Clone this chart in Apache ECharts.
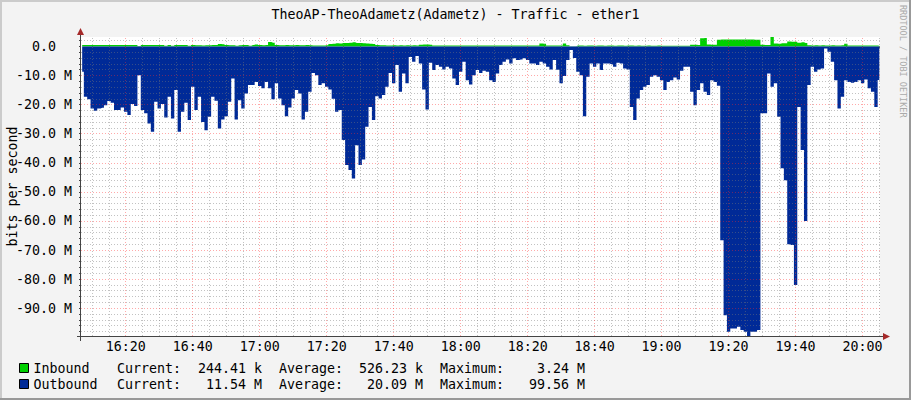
<!DOCTYPE html>
<html>
<head>
<meta charset="utf-8">
<title>TheoAP-TheoAdametz(Adametz) - Traffic - ether1</title>
<script src="https://cdn.jsdelivr.net/npm/echarts@6/dist/echarts.min.js"></script>
<style>
  html, body { margin: 0; padding: 0; background: #f3f3f3; }
  #chart { width: 911px; height: 400px; }
</style>
</head>
<body>
<div id="chart"></div>
<script>
// one sample per minute, starting at this time (values in Mbit/s)
const startTime = '16:07'

const inbound = [
  0.45, 0.5, 0.5, 0.45, 0.5, 0.5, 0.45, 0.5, 0.5, 0.45,
  0.5, 0.5, 0.45, 0.5, 0.5, 0.45, 0.5, 0.15, 0.5, 0.5,
  0.45, 0.5, 0.5, 0.45, 0.5, 0.2, 0.45, 0.2, 0.45, 0.5,
  0.5, 0.45, 0.2, 0.45, 0.4, 0.4, 0.35, 0.4, 0.4, 0.45,
  0.45, 0.8, 0.75, 0.45, 0.4, 0.4, 0.25, 0.4, 0.45, 0.45,
  0.25, 0.45, 0.7, 0.45, 0.4, 0.45, 1.5, 1.3, 0.45, 0.4,
  0.4, 0.45, 0.4, 0.4, 0.45, 0.4, 0.4, 0.45, 0.4, 0.35,
  0.35, 0.3, 0.35, 0.4, 0.8, 0.9, 1.1, 1.0, 1.2, 1.2,
  1.3, 1.4, 1.2, 1.2, 1.1, 1.0, 0.9, 0.8, 0.45, 0.4,
  0.4, 0.35, 0.35, 0.4, 0.35, 0.4, 0.35, 0.4, 0.35, 0.4,
  0.35, 0.6, 0.7, 0.7, 0.6, 0.35, 0.35, 0.3, 0.35, 0.35,
  0.3, 0.35, 0.35, 0.3, 0.35, 0.35, 0.3, 0.35, 0.35, 0.3,
  0.35, 0.35, 0.3, 0.35, 0.35, 0.3, 0.35, 0.35, 0.3, 0.35,
  0.35, 0.3, 0.35, 0.35, 0.3, 0.35, 0.35, 1.0, 0.9, 0.35,
  0.3, 0.35, 0.35, 0.3, 1.0, 0.4, 0.05, 0.1, 0.3, 0.3,
  0.25, 0.3, 0.3, 0.25, 0.3, 0.3, 0.25, 0.3, 0.3, 0.25,
  0.3, 0.3, 0.25, 0.3, 0.3, 0.25, 0.3, 0.25, 0.25, 0.3,
  0.25, 0.25, 0.3, 0.25, 0.2, 0.2, 0.25, 0.2, 0.2, 0.25,
  0.2, 0.25, 0.6, 0.6, 0.5, 2.8, 2.9, 0.7, 0.6, 0.6,
  2.3, 2.4, 2.4, 2.4, 2.4, 2.4, 2.4, 2.4, 2.4, 2.4,
  2.4, 2.3, 2.3, 0.6, 0.5, 0.5, 3.24, 1.0, 0.9, 1.1,
  1.1, 1.7, 1.6, 1.6, 1.3, 1.4, 1.2, 0.4, 0.35, 0.4,
  0.35, 0.4, 0.35, 0.35, 0.4, 0.35, 0.35, 0.4, 0.9, 0.3,
  0.3, 0.3, 0.35, 0.3, 0.3, 0.3, 0.35, 0.3, 0.244
]

const outbound = [
  -8.7, -17.3, -18.2, -21.3, -22.1, -21.3, -21.1, -20.2, -18.8, -19.4,
  -21.9, -21.9, -21.0, -22.5, -23.6, -19.8, -20.5, -9.9, -21.9, -23.0,
  -26.5, -29.3, -19.0, -21.3, -19.8, -24.4, -17.3, -24.8, -15.0, -29.3,
  -22.5, -19.4, -25.3, -13.9, -21.9, -17.3, -26.0, -28.8, -24.2, -17.3,
  -18.7, -28.2, -25.1, -24.0, -19.0, -11.0, -25.1, -18.5, -21.3, -16.2,
  -13.3, -13.3, -12.2, -13.6, -14.4, -12.2, -14.4, -18.2, -12.7, -17.9,
  -20.2, -24.0, -21.0, -17.9, -15.0, -16.2, -25.1, -22.5, -15.6, -9.1,
  -9.9, -13.3, -12.7, -13.9, -14.8, -18.0, -22.5, -21.9, -32.2, -40.8,
  -42.5, -45.4, -34.0, -40.8, -38.9, -27.6, -20.8, -25.3, -17.1, -17.9,
  -16.7, -13.9, -9.1, -12.7, -6.4, -15.6, -9.3, -12.7, -3.6, -5.3,
  -3.3, -5.9, -14.8, -21.7, -5.6, -8.1, -6.4, -7.0, -7.9, -7.0,
  -7.6, -11.0, -13.3, -8.7, -5.3, -11.6, -13.1, -9.9, -8.1, -9.1,
  -8.4, -8.7, -11.6, -12.2, -9.3, -6.4, -5.3, -4.5, -5.9, -4.1,
  -4.7, -4.5, -4.1, -4.7, -5.9, -5.9, -6.4, -5.3, -5.9, -7.0,
  -7.9, -4.7, -8.0, -12.7, -10.2, -4.7, -1.2, -4.0, -8.7, -9.9,
  -24.0, -10.4, -5.9, -7.0, -5.9, -8.1, -5.9, -5.9, -6.1, -7.0,
  -5.6, -5.9, -7.6, -7.9, -20.8, -25.3, -17.9, -15.0, -13.9, -13.3,
  -10.4, -9.9, -10.4, -11.6, -15.0, -12.2, -11.6, -10.7, -11.4, -8.4,
  -7.0, -7.0, -15.6, -20.2, -15.0, -12.7, -15.6, -16.7, -11.6, -12.2,
  -13.5, -66.6, -92.4, -98.1, -97.0, -97.0, -96.4, -97.5, -98.1, -99.56,
  -98.1, -98.1, -97.5, -23.0, -23.0, -9.3, -13.9, -12.7, -24.2, -41.9,
  -46.0, -68.0, -68.3, -82.0, -20.8, -35.6, -60.0, -13.3, -7.0, -8.7,
  -7.9, -7.6, -0.7, -1.8, -5.3, -11.6, -21.3, -17.3, -11.6, -12.2,
  -12.5, -12.2, -11.6, -12.7, -11.4, -14.4, -15.6, -20.8, -11.54
]

const timeLabels = ['16:20', '16:40', '17:00', '17:20', '17:40', '18:00',
  '18:20', '18:40', '19:00', '19:20', '19:40', '20:00']
const yLabels = [0, -10, -20, -30, -40, -50, -60, -70, -80, -90]

const statNames = ['Current:', 'Average:', 'Maximum:']
const inboundStats = ['244.41 k', '526.23 k', '3.24 M']
const outboundStats = ['11.54 M', '20.09 M', '99.56 M']

const FONT = 'DejaVu Sans Mono'
const FS = 13.3
const GREEN = '#00CF00'
const BLUE = '#002A97'

const toMin = s => { const [h, m] = s.split(':').map(Number); return h * 60 + m }
const fmtMin = v => {
  const h = Math.floor(v / 60), m = Math.round(v % 60)
  return String(h).padStart(2, '0') + ':' + String(m).padStart(2, '0')
}

const t0 = toMin(startTime)
const inData = inbound.map((v, i) => [t0 + i, v])
const outData = outbound.map((v, i) => [t0 + i, v])

// visible time window of the graph
const xMin = toMin('16:06') + 0.65
const xMax = toMin('20:05') + 0.2
const yMin = -99.56
const yMax = 3.24

// plot area in pixels
const G = { left: 81, top: 37, width: 799, height: 299 }
const gRight = G.left + G.width
const gBottom = G.top + G.height

const majorX = timeLabels.map(toMin)
const tickX = []
for (let m = 970; m < xMax; m += 5) tickX.push(m)
const minorX = tickX.filter(m => !majorX.includes(m))
const tickY = []
for (let v = 2; v > yMin; v -= 2) tickY.push(v)
const minorY = tickY.filter(v => v % 10 !== 0)

const minorStyle = { color: 'rgba(120,120,120,0.45)', width: 1, type: [1, 2] }
const majorStyle = { color: 'rgba(255,40,40,0.4)', width: 1, type: [1, 2] }
const gridLines = [
  ...minorX.map(x => ({ xAxis: x, lineStyle: minorStyle })),
  ...minorY.map(y => ({ yAxis: y, lineStyle: minorStyle })),
  ...majorX.map(x => ({ xAxis: x, lineStyle: majorStyle })),
  ...yLabels.filter(v => v !== 0).map(y => ({ yAxis: y, lineStyle: majorStyle }))
]

const txt = (x, y, text, align, extra) => ({
  type: 'text', x, y, silent: true,
  style: Object.assign({
    text, fontFamily: FONT, fontSize: FS, fill: '#000',
    align, textAlign: align, verticalAlign: 'middle', textVerticalAlign: 'middle'
  }, extra || {})
})

const rowY = [368, 384]
const labelX = [117, 279, 440]
const valueRight = [262, 423, 585]
const statTexts = []
;[inboundStats, outboundStats].forEach((row, r) => {
  row.forEach((val, c) => {
    statTexts.push(txt(labelX[c], rowY[r], statNames[c], 'left'))
    statTexts.push(txt(valueRight[c], rowY[r], val, 'right'))
  })
})

const AXIS = '#444'
const ARROW = '#a52a2a'
const frame = [
  // 3d border of the image
  { type: 'rect', shape: { x: 0, y: 0, width: 911, height: 2 }, style: { fill: '#cbcbcb' } },
  { type: 'rect', shape: { x: 0, y: 0, width: 2, height: 400 }, style: { fill: '#cbcbcb' } },
  { type: 'rect', shape: { x: 909, y: 0, width: 2, height: 400 }, style: { fill: '#999' } },
  { type: 'rect', shape: { x: 0, y: 398, width: 911, height: 2 }, style: { fill: '#999' } },
  // axis lines with arrows
  { type: 'line', z: 50, shape: { x1: G.left - 0.5, y1: gBottom + 5, x2: G.left - 0.5, y2: G.top - 3 }, style: { stroke: AXIS, lineWidth: 1 } },
  { type: 'line', z: 50, shape: { x1: G.left - 4, y1: gBottom + 0.5, x2: gRight + 4, y2: gBottom + 0.5 }, style: { stroke: AXIS, lineWidth: 1 } },
  { type: 'polygon', z: 51, shape: { points: [[G.left - 4, G.top - 2], [G.left + 3, G.top - 2], [G.left - 0.5, G.top - 9]] }, style: { fill: ARROW } },
  { type: 'polygon', z: 51, shape: { points: [[gRight + 3, gBottom - 3], [gRight + 3, gBottom + 4], [gRight + 10, gBottom + 0.5]] }, style: { fill: ARROW } },
  // rrdtool signature
  {
    type: 'text', x: 903, y: 5, rotation: -Math.PI / 2, silent: true,
    style: { text: 'RRDTOOL / TOBI OETIKER', fontFamily: FONT, fontSize: 8.5, fill: '#aaa',
      align: 'left', textAlign: 'left', verticalAlign: 'middle', textVerticalAlign: 'middle' }
  }
]

const chart = echarts.init(document.getElementById('chart'), null, { renderer: 'svg' })

chart.setOption({
  backgroundColor: '#f3f3f3',
  animation: false,
  title: {
    text: 'TheoAP-TheoAdametz(Adametz) - Traffic - ether1',
    left: 'center',
    top: 8,
    padding: 0,
    textStyle: { fontFamily: FONT, fontSize: FS, fontWeight: 'normal', color: '#000' }
  },
  legend: {
    data: ['Inbound', 'Outbound'],
    orient: 'vertical',
    left: 19,
    top: 360,
    padding: 0,
    itemGap: 0,
    itemWidth: 9,
    itemHeight: 9,
    icon: 'rect',
    selectedMode: false,
    itemStyle: { borderColor: '#000', borderWidth: 1 },
    textStyle: { fontFamily: FONT, fontSize: FS, color: '#000', lineHeight: 16 }
  },
  grid: Object.assign({ show: true, backgroundColor: '#fff', borderWidth: 0, containLabel: false, outerBoundsMode: 'none' }, G),
  xAxis: {
    type: 'value',
    min: xMin,
    max: xMax,
    splitLine: { show: false },
    axisLine: { show: false },
    axisTick: { customValues: tickX, length: 2, lineStyle: { color: AXIS } },
    axisLabel: {
      customValues: majorX,
      formatter: v => fmtMin(v),
      fontFamily: FONT, fontSize: FS, color: '#000', margin: 4
    }
  },
  yAxis: {
    type: 'value',
    min: yMin,
    max: yMax,
    name: 'bits per second',
    nameLocation: 'middle',
    nameRotate: 90,
    nameGap: 62,
    nameMoveOverlap: false,
    nameTextStyle: { fontFamily: FONT, fontSize: FS, color: '#000' },
    splitLine: { show: false },
    axisLine: { show: false },
    axisTick: { customValues: tickY, length: 2, lineStyle: { color: AXIS } },
    axisLabel: {
      customValues: yLabels,
      formatter: v => v === 0 ? '0.0\u00a0\u00a0' : v.toFixed(1) + ' M',
      fontFamily: FONT, fontSize: FS, color: '#000', margin: 9
    }
  },
  series: [
    {
      name: 'Inbound', type: 'line', data: inData, step: 'middle',
      symbol: 'none', itemStyle: { color: GREEN },
      lineStyle: { width: 0 }, areaStyle: { color: GREEN, opacity: 1 }, z: 2
    },
    {
      name: 'Outbound', type: 'line', data: outData, step: 'middle',
      symbol: 'none', itemStyle: { color: BLUE },
      lineStyle: { width: 0 }, areaStyle: { color: BLUE, opacity: 1 }, z: 2
    },
    {
      name: 'grid', type: 'line', data: [], z: 5, silent: true,
      markLine: {
        silent: true, symbol: ['none', 'none'], animation: false,
        label: { show: false }, emphasis: { disabled: true },
        data: gridLines
      }
    }
  ],
  graphic: frame.concat(statTexts)
})
</script>
</body>
</html>
